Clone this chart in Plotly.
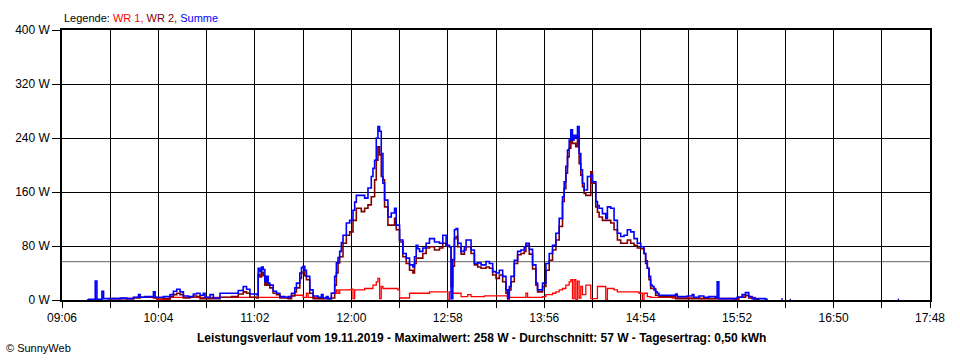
import plotly.graph_objects as go

# ---------------- data ----------------
tick_labels = ["09:06", "10:04", "11:02", "12:00", "12:58", "13:56",
               "14:54", "15:52", "16:50", "17:48"]
y_ticks = [0, 80, 160, 240, 320, 400]
average_w = 57

wr1_times = ["09:33", "09:49", "10:03", "10:11", "11:17", "11:24", "11:29", "11:31", "11:33", "11:34",
             "11:40", "11:46", "11:48", "11:51", "11:52", "11:53", "12:00", "12:01", "12:02", "12:08",
             "12:12", "12:13", "12:15", "12:16", "12:17", "12:18", "12:19", "12:28", "12:29", "12:33",
             "12:35", "12:45", "12:47", "12:57", "12:58", "12:59", "13:01", "13:05", "13:06", "13:10",
             "13:12", "13:18", "13:20", "13:33", "13:34", "13:35", "13:44", "13:45", "13:46", "13:55",
             "13:57", "14:01", "14:03", "14:05", "14:07", "14:09", "14:11", "14:12", "14:13", "14:14",
             "14:15", "14:16", "14:17", "14:18", "14:19", "14:21", "14:24", "14:25", "14:28", "14:32",
             "14:33", "14:34", "14:38", "14:40", "14:52", "14:53", "14:55", "14:56", "14:58", "15:00",
             "15:05", "15:13", "15:30", "15:50", "15:53", "15:56", "15:59", "16:03"]
wr1_w = [2, 4, 1, 4, 4, 7, 7, 4, 10, 4,
         2, 2, 10, 15, 10, 15, 16, 2, 15, 17,
         17, 22, 27, 32, 2, 20, 17, 15, 3, 3,
         10, 10, 12, 12, 0, 12, 10, 10, 5, 8,
         5, 5, 6, 6, 0, 4, 4, 10, 4, 5,
         8, 10, 12, 15, 17, 22, 27, 30, 2, 30,
         0, 28, 3, 20, 8, 22, 2, 2, 20, 20,
         0, 17, 15, 12, 12, 10, 0, 10, 5, 4,
         4, 3, 2, 1, 4, 6, 4, 0]

wr2_times = ["09:34", "09:49", "09:53", "10:01", "10:07", "10:11", "10:13", "10:15", "10:17", "10:19",
             "10:23", "10:25", "10:27", "10:29", "10:41", "10:48", "10:52", "10:55", "10:57", "10:59",
             "11:03", "11:04", "11:05", "11:06", "11:07", "11:08", "11:09", "11:10", "11:11", "11:13",
             "11:15", "11:17", "11:22", "11:24", "11:26", "11:27", "11:29", "11:30", "11:31", "11:32",
             "11:33", "11:35", "11:37", "11:48", "11:50", "11:51", "11:52", "11:53", "11:55", "11:57",
             "11:59", "12:01", "12:03", "12:06", "12:08", "12:10", "12:12", "12:14", "12:15", "12:16",
             "12:17", "12:18", "12:19", "12:20", "12:22", "12:24", "12:26", "12:27", "12:29", "12:31",
             "12:33", "12:35", "12:37", "12:38", "12:39", "12:41", "12:43", "12:45", "12:47", "12:50",
             "12:53", "12:55", "12:57", "12:59", "13:00", "13:01", "13:02", "13:03", "13:04", "13:06",
             "13:08", "13:09", "13:11", "13:12", "13:14", "13:16", "13:18", "13:21", "13:23", "13:25",
             "13:27", "13:29", "13:31", "13:33", "13:34", "13:35", "13:36", "13:38", "13:40", "13:42",
             "13:44", "13:45", "13:47", "13:49", "13:51", "13:52", "13:54", "13:55", "13:57", "13:59",
             "14:01", "14:03", "14:05", "14:07", "14:08", "14:09", "14:10", "14:11", "14:12", "14:13",
             "14:14", "14:15", "14:16", "14:17", "14:18", "14:19", "14:20", "14:21", "14:23", "14:24",
             "14:25", "14:27", "14:28", "14:29", "14:31", "14:34", "14:36", "14:38", "14:40", "14:42",
             "14:44", "14:46", "14:48", "14:50", "14:52", "14:54", "14:56", "14:57", "14:58", "14:59",
             "15:00", "15:01", "15:03", "15:05", "15:13", "15:15", "15:50", "15:53", "15:57", "15:59",
             "16:02", "16:05"]
wr2_w = [2, 3, 4, 3, 2, 5, 8, 10, 8, 3,
         4, 6, 5, 2, 4, 5, 9, 12, 10, 4,
         3, 38, 34, 41, 36, 22, 28, 22, 18, 10,
         8, 3, 2, 6, 12, 18, 32, 40, 42, 36,
         30, 10, 2, 3, 22, 40, 55, 64, 84, 96,
         101, 118, 136, 131, 136, 141, 153, 178, 207, 227,
         215, 183, 178, 138, 111, 111, 121, 104, 86, 64,
         54, 44, 40, 54, 62, 62, 69, 77, 79, 74,
         77, 84, 80, 79, 20, 50, 91, 94, 79, 68,
         74, 79, 79, 69, 52, 49, 47, 49, 47, 37,
         32, 37, 27, 10, 3, 15, 27, 54, 67, 69,
         72, 81, 68, 46, 22, 12, 12, 20, 44, 59,
         74, 89, 109, 146, 165, 188, 212, 225, 240, 232,
         232, 227, 242, 202, 185, 168, 158, 155, 155, 190,
         173, 138, 130, 123, 118, 118, 114, 104, 89, 84,
         84, 89, 84, 81, 77, 76, 69, 58, 47, 30,
         17, 17, 7, 5, 5, 2, 2, 4, 7, 3,
         1, 0]

sum_times = ["09:21", "09:22", "09:26", "09:27", "09:30", "09:31", "09:35", "09:41", "09:45", "09:49",
             "09:52", "09:53", "09:56", "10:01", "10:02", "10:07", "10:11", "10:13", "10:15", "10:17",
             "10:19", "10:22", "10:25", "10:27", "10:29", "10:31", "10:32", "10:35", "10:37", "10:41",
             "10:48", "10:52", "10:55", "10:57", "10:59", "11:03", "11:04", "11:05", "11:06", "11:07",
             "11:08", "11:09", "11:10", "11:11", "11:13", "11:15", "11:17", "11:20", "11:22", "11:24",
             "11:26", "11:27", "11:29", "11:30", "11:31", "11:32", "11:33", "11:35", "11:37", "11:40",
             "11:42", "11:43", "11:45", "11:46", "11:48", "11:50", "11:51", "11:52", "11:53", "11:54",
             "11:55", "11:57", "11:59", "12:01", "12:02", "12:03", "12:06", "12:08", "12:10", "12:12",
             "12:13", "12:14", "12:15", "12:16", "12:17", "12:18", "12:19", "12:20", "12:22", "12:24",
             "12:26", "12:27", "12:29", "12:31", "12:33", "12:35", "12:37", "12:38", "12:39", "12:40",
             "12:41", "12:43", "12:45", "12:47", "12:50", "12:53", "12:55", "12:57", "12:59", "13:00",
             "13:01", "13:02", "13:03", "13:04", "13:06", "13:08", "13:09", "13:11", "13:12", "13:14",
             "13:16", "13:18", "13:21", "13:23", "13:25", "13:27", "13:29", "13:31", "13:33", "13:34",
             "13:35", "13:36", "13:38", "13:40", "13:42", "13:44", "13:45", "13:47", "13:49", "13:51",
             "13:52", "13:54", "13:55", "13:57", "13:59", "14:01", "14:03", "14:05", "14:07", "14:08",
             "14:09", "14:10", "14:11", "14:12", "14:13", "14:14", "14:15", "14:16", "14:17", "14:18",
             "14:19", "14:20", "14:21", "14:22", "14:24", "14:25", "14:27", "14:28", "14:29", "14:31",
             "14:33", "14:34", "14:36", "14:38", "14:40", "14:42", "14:44", "14:46", "14:48", "14:50",
             "14:52", "14:54", "14:56", "14:57", "14:58", "14:59", "15:00", "15:01", "15:02", "15:03",
             "15:04", "15:05", "15:13", "15:15", "15:16", "15:22", "15:25", "15:26", "15:29", "15:32",
             "15:35", "15:39", "15:40", "15:41", "15:50", "15:52", "15:55", "15:57", "15:59", "16:01",
             "16:09", "16:10"]
sum_w = [0, 1, 28, 1, 13, 2, 2, 3, 2, 4,
         8, 4, 5, 12, 4, 5, 8, 13, 16, 12,
         6, 5, 9, 10, 7, 10, 4, 8, 3, 10,
         10, 14, 20, 16, 9, 8, 47, 42, 49, 45,
         27, 35, 25, 22, 13, 10, 5, 4, 5, 10,
         18, 25, 40, 48, 50, 44, 35, 15, 6, 4,
         8, 3, 5, 2, 10, 35, 55, 63, 72, 85,
         96, 114, 118, 133, 145, 155, 155, 151, 166, 183,
         195, 207, 240, 257, 250, 217, 173, 148, 123, 129,
         136, 111, 89, 69, 62, 52, 49, 64, 81, 76,
         72, 77, 84, 91, 86, 84, 96, 81, 79, 2,
         60, 104, 106, 84, 72, 79, 89, 89, 74, 54,
         55, 52, 57, 54, 42, 40, 44, 35, 15, 3,
         20, 35, 59, 72, 74, 79, 84, 75, 52, 25,
         15, 15, 25, 54, 69, 81, 99, 121, 153, 175,
         198, 222, 237, 252, 237, 244, 240, 257, 217, 193,
         173, 163, 163, 183, 185, 175, 146, 140, 136, 128,
         121, 138, 136, 118, 99, 94, 96, 104, 101, 91,
         84, 79, 69, 54, 47, 35, 22, 20, 15, 12,
         10, 7, 7, 9, 5, 6, 8, 4, 6, 4,
         5, 4, 27, 2, 2, 4, 8, 11, 5, 2,
         1, 0]

sum_spike_times = ["16:19", "16:24", "17:29"]
sum_spike_w = [3, 2, 2]


def to_min(s):
    h, m = s.split(":")
    return int(h) * 60 + int(m)


x0 = to_min(tick_labels[0])
x1 = to_min(tick_labels[-1])

fig = go.Figure()

fig.add_trace(go.Scatter(x=[to_min(t) for t in wr1_times], y=wr1_w, mode="lines",
                         line=dict(color="#FF0000", width=1.3, shape="hv"), name="WR 1"))
fig.add_trace(go.Scatter(x=[to_min(t) for t in wr2_times], y=wr2_w, mode="lines",
                         line=dict(color="#800000", width=1.6, shape="hv"), name="WR 2"))
fig.add_trace(go.Scatter(x=[to_min(t) for t in sum_times], y=sum_w, mode="lines",
                         line=dict(color="#0000FF", width=1.6, shape="hv"), name="Summe"))

sx, sy = [], []
for t, w in zip(sum_spike_times, sum_spike_w):
    sx += [to_min(t), to_min(t), None]
    sy += [0, w, None]
fig.add_trace(go.Scatter(x=sx, y=sy, mode="lines", line=dict(color="#0000FF", width=1.3),
                         showlegend=False))

fig.add_shape(type="line", xref="x", yref="y", x0=x0, x1=x1, y0=average_w, y1=average_w,
              line=dict(color="#808080", width=1.2), layer="below")

font_family = "Liberation Sans, Arial, sans-serif"

fig.update_layout(
    width=960, height=360,
    margin=dict(l=62, r=30, t=30, b=60),
    paper_bgcolor="white", plot_bgcolor="white",
    showlegend=False,
    font=dict(family=font_family, size=12, color="black"),
)

fig.update_xaxes(
    range=[x0, x1],
    tickmode="array", tickvals=[to_min(t) for t in tick_labels], ticktext=tick_labels,
    showgrid=True, gridcolor="black", gridwidth=1.3,
    showline=True, linecolor="black", linewidth=1.5, mirror=True,
    ticks="outside", ticklen=6, tickcolor="black", tickwidth=1.3,
    minor=dict(tick0=x0, dtick=29, showgrid=True, gridcolor="black", gridwidth=1.3,
               ticks="outside", ticklen=6, tickcolor="black", tickwidth=1.3),
    zeroline=False, automargin=False,
    tickfont=dict(family=font_family, size=12, color="black"),
)
fig.update_yaxes(
    range=[0, 400],
    tickmode="array", tickvals=y_ticks, ticktext=[f"{v} W" for v in y_ticks],
    showgrid=True, gridcolor="black", gridwidth=1.3,
    showline=True, linecolor="black", linewidth=1.5, mirror=True,
    ticks="outside", ticklen=8, tickcolor="black", tickwidth=1.3,
    zeroline=False, automargin=False,
    tickfont=dict(family=font_family, size=12, color="black"),
)

fig.add_annotation(
    xref="paper", yref="paper", x=0, y=1, xanchor="left", yanchor="bottom", yshift=4,
    showarrow=False, align="left",
    text=("Legende: <span style='color:#FF0000'>WR 1, </span>"
          "<span style='color:#800000'>WR 2, </span>"
          "<span style='color:#0000FF'>Summe</span>"),
    font=dict(family=font_family, size=11, color="black"),
)
fig.add_annotation(
    xref="paper", yref="paper", x=0.483, y=0, xanchor="center", yanchor="top", yshift=-29,
    showarrow=False,
    text=("<b>Leistungsverlauf vom 19.11.2019 - Maximalwert: 258 W - Durchschnitt: 57 W - "
          "Tagesertrag: 0,50 kWh</b>"),
    font=dict(family=font_family, size=12, color="black"),
)
fig.add_annotation(
    xref="paper", yref="paper", x=(4 - 62) / 868, y=0, xanchor="left", yanchor="top", yshift=-40,
    showarrow=False, text="© SunnyWeb",
    font=dict(family=font_family, size=11, color="black"),
)

fig.write_html("out.html", config={"displayModeBar": False},
               post_script="document.body.style.margin='0';document.body.style.padding='0';")
